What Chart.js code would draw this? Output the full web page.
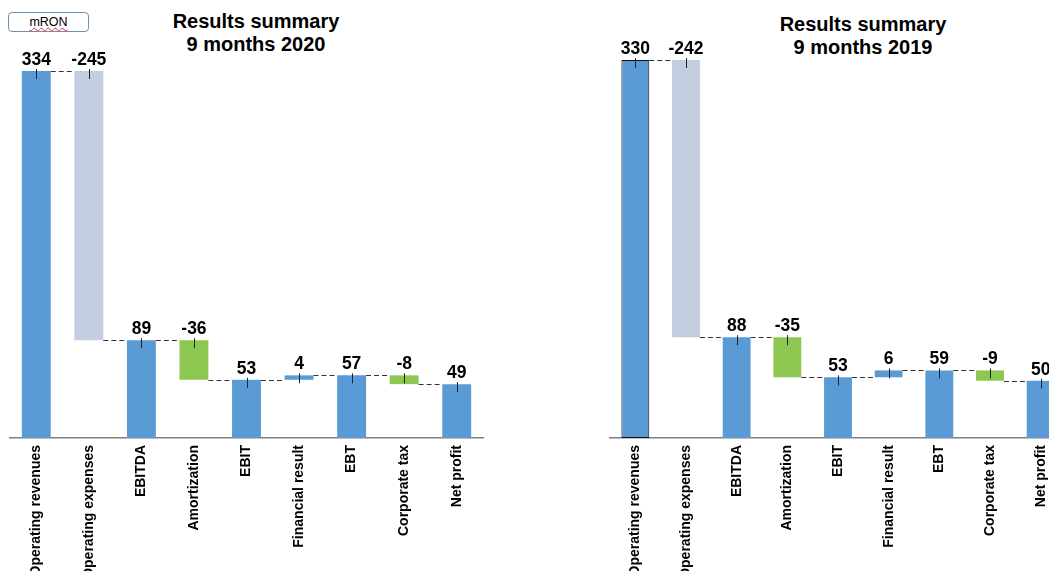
<!DOCTYPE html>
<html>
<head>
<meta charset="utf-8">
<script src="https://cdn.jsdelivr.net/npm/chart.js@4.4.1/dist/chart.umd.min.js"></script>
<style>
  html, body { margin: 0; padding: 0; background: #fff; width: 1049px; height: 571px; overflow: hidden; position: relative; }
  canvas { position: absolute; top: 0; }
  #c1 { left: 0; }
  #c2 { left: 560px; }
  .title { position: absolute; font-family: "Liberation Sans", Arial, sans-serif; font-weight: bold; font-size: 20px; line-height: 23px; text-align: center; color: #000; width: 300px; }
  #t1 { left: 106px; top: 10px; }
  #t2 { left: 713px; top: 13px; }
  #unit { position: absolute; left: 8px; top: 12px; width: 79px; height: 18px; border: 1px solid #6f8fb3; border-radius: 4px; font-family: "Liberation Sans", Arial, sans-serif; font-size: 12.5px; line-height: 18px; text-align: center; color: #000; }
  #unit span { text-decoration: underline wavy #e03030; text-decoration-thickness: 1px; }
</style>
</head>
<body>
<div id="unit"><span>mRON</span></div>
<div class="title" id="t1">Results summary<br>9 months 2020</div>
<div class="title" id="t2">Results summary<br>9 months 2019</div>
<canvas id="c1" width="500" height="571"></canvas>
<canvas id="c2" width="520" height="571"></canvas>
<script>
const categories = ['Operating revenues', 'Operating expenses', 'EBITDA', 'Amortization', 'EBIT', 'Financial result', 'EBT', 'Corporate tax', 'Net profit'];
const values2020 = [334, -245, 89, -36, 53, 4, 57, -8, 49];
const values2019 = [330, -242, 88, -35, 53, 6, 59, -9, 50];
const barKinds = ['total', 'delta', 'total', 'delta', 'total', 'delta', 'total', 'delta', 'total'];

const BLUE = '#5B9BD5', LIGHT = '#C3CDE0', GREEN = '#8DC650';
const barColors = [BLUE, LIGHT, BLUE, GREEN, BLUE, BLUE, BLUE, GREEN, BLUE];

function waterfall(values) {
  let running = 0;
  const bars = [], levels = [];
  values.forEach((v, i) => {
    if (barKinds[i] === 'total') { bars.push([0, v]); running = v; }
    else { bars.push([running, running + v]); running += v; }
    levels.push(running);
  });
  return { bars, levels };
}

const wfPlugin = {
  id: 'wf',
  afterDatasetsDraw(chart, args, opts) {
    const ctx = chart.ctx;
    const meta = chart.getDatasetMeta(0);
    const ys = chart.scales.y;
    const els = meta.data;
    ctx.save();
    ctx.strokeStyle = '#333';
    ctx.lineWidth = 1;
    ctx.setLineDash([5, 3]);
    for (let i = 0; i < els.length - 1; i++) {
      const a = els[i], b = els[i + 1];
      const yy = Math.round(ys.getPixelForValue(opts.levels[i])) + 0.5;
      ctx.beginPath();
      ctx.moveTo(a.x + a.width / 2, yy);
      ctx.lineTo(b.x - b.width / 2, yy);
      ctx.stroke();
    }
    ctx.setLineDash([]);
    ctx.font = 'bold 17.5px "Liberation Sans", Arial, sans-serif';
    ctx.fillStyle = '#000';
    ctx.textAlign = 'center';
    ctx.textBaseline = 'alphabetic';
    els.forEach((el, i) => {
      const top = Math.min(el.y, el.base);
      const x = Math.round(el.x) + 0.5;
      ctx.strokeStyle = '#222';
      ctx.lineWidth = 1;
      ctx.beginPath();
      ctx.moveTo(x, top - 2);
      ctx.lineTo(x, top + 8);
      ctx.stroke();
      ctx.fillText(String(opts.values[i]), el.x, top - 6);
    });
    ctx.restore();
  }
};

function makeChart(id, values, padTop, padLeft, padRight, firstBorder) {
  const wf = waterfall(values);
  const maxV = Math.max(...wf.bars.map(b => Math.max(b[0], b[1])));
  return new Chart(document.getElementById(id), {
    type: 'bar',
    data: {
      labels: categories,
      datasets: [{
        data: wf.bars,
        backgroundColor: barColors,
        borderColor: values.map((v, i) => (i === 0 && firstBorder) ? '#111' : 'rgba(0,0,0,0)'),
        borderWidth: values.map((v, i) => (i === 0 && firstBorder) ? 1 : 0),
        borderSkipped: false,
        barPercentage: 0.55,
        categoryPercentage: 1.0
      }]
    },
    options: {
      responsive: false,
      animation: false,
      devicePixelRatio: 1,
      layout: { padding: { top: padTop, left: padLeft, right: padRight, bottom: 0 } },
      plugins: {
        legend: { display: false },
        tooltip: { enabled: false },
        wf: { values: values, levels: wf.levels }
      },
      scales: {
        x: {
          grid: { display: false, drawTicks: false },
          border: { display: true, color: '#808080', width: 1.5 },
          ticks: {
            autoSkip: false,
            minRotation: 90,
            maxRotation: 90,
            padding: 7,
            color: '#000',
            font: { family: '"Liberation Sans", Arial, sans-serif', size: 14, weight: 'bold' }
          },
          afterFit: (scale) => { scale.height = 571 - 438; }
        },
        y: {
          display: false,
          min: 0,
          max: maxV
        }
      }
    },
    plugins: [wfPlugin]
  });
}

makeChart('c1', values2020, 71, 10, 17, false);
makeChart('c2', values2019, 60, 50, 14, true);
</script>
</body>
</html>
